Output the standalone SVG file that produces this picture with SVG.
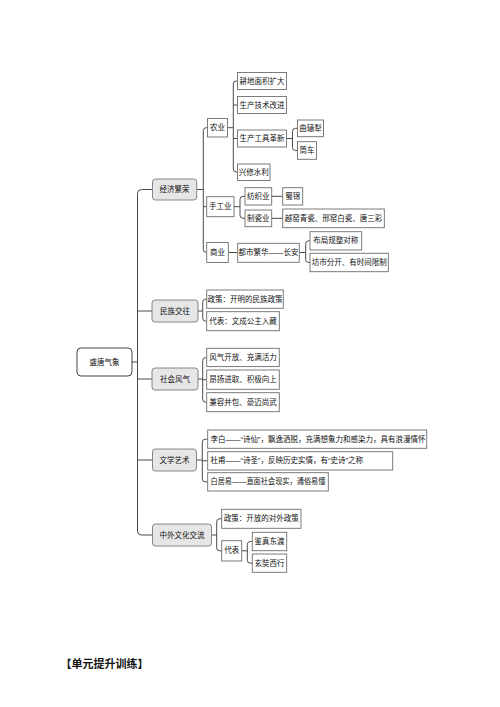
<svg xmlns="http://www.w3.org/2000/svg" width="500" height="707" viewBox="0 0 500 707">
<style>
.bg{fill:#fff}
.leaf{fill:#fff;stroke:#6e6e6e;stroke-width:0.9}
.l1{fill:#e6e6e6;stroke:#7a7a7a;stroke-width:0.9}
.root{fill:#fff;stroke:#444;stroke-width:1}
.c{fill:none;stroke:#4a4a4a;stroke-width:1}
text{font-family:"Liberation Sans","Noto Sans CJK SC",sans-serif;font-size:7.5px;fill:#111;dominant-baseline:central;text-anchor:middle}
.s{text-anchor:start}
.title{font-family:"Liberation Serif","Noto Sans CJK SC",serif;font-size:11px;font-weight:bold;dominant-baseline:alphabetic;text-anchor:start;fill:#111}
</style>
<rect class="bg" x="0" y="0" width="500" height="707"/>
<g id="connectors">
<path class="c" d="M132,362 H137.5"/>
<path class="c" d="M152.5,189.5 H141.5 Q137.5,189.5 137.5,193.5 V531 Q137.5,535 141.5,535 H152.5"/>
<path class="c" d="M137.5,311 H152"/>
<path class="c" d="M137.5,379 H152"/>
<path class="c" d="M137.5,460 H152.5"/>
<path class="c" d="M196.7,189.5 H203.3"/>
<path class="c" d="M207.5,127.7 H206.3 Q203.3,127.7 203.3,130.7 V249.3 Q203.3,252.3 206.3,252.3 H206.7"/>
<path class="c" d="M203.3,206.7 H206.7"/>
<path class="c" d="M227.5,127.7 H233.3"/>
<path class="c" d="M237.5,81 H236.3 Q233.3,81 233.3,84 V169 Q233.3,172 236.3,172 H237.5"/>
<path class="c" d="M233.3,105 H237.5"/>
<path class="c" d="M233.3,138.5 H237.5"/>
<path class="c" d="M286.5,138.5 H292.5"/>
<path class="c" d="M297.5,128.3 H295.5 Q292.5,128.3 292.5,131.3 V147.5 Q292.5,150.5 295.5,150.5 H297.5"/>
<path class="c" d="M234,206.7 H240"/>
<path class="c" d="M245,196.3 H243 Q240,196.3 240,199.3 V215.3 Q240,218.3 243,218.3 H245"/>
<path class="c" d="M271.7,196.3 H282.7"/>
<path class="c" d="M271.7,218.3 H282.7"/>
<path class="c" d="M228.3,252.5 H237.7"/>
<path class="c" d="M299.3,252.5 H305.7"/>
<path class="c" d="M310,240.8 H308.7 Q305.7,240.8 305.7,243.8 V259.5 Q305.7,262.5 308.7,262.5 H310"/>
<path class="c" d="M198,311 H202.7"/>
<path class="c" d="M206.7,299.2 H205.7 Q202.7,299.2 202.7,302.2 V318.2 Q202.7,321.2 205.7,321.2 H206.7"/>
<path class="c" d="M198,379 H202.7"/>
<path class="c" d="M206.7,357.5 H205.7 Q202.7,357.5 202.7,360.5 V399.2 Q202.7,402.2 205.7,402.2 H206.7"/>
<path class="c" d="M202.7,379.7 H206.7"/>
<path class="c" d="M196.5,460 H202.3"/>
<path class="c" d="M207.7,439.2 H205.3 Q202.3,439.2 202.3,442.2 V478.8 Q202.3,481.8 205.3,481.8 H207.7"/>
<path class="c" d="M202.3,460.8 H207.7"/>
<path class="c" d="M211.5,535 H216.7"/>
<path class="c" d="M221.7,518.8 H219.7 Q216.7,518.8 216.7,521.8 V547.8 Q216.7,550.8 219.7,550.8 H221.7"/>
<path class="c" d="M241.7,550.8 H247.3"/>
<path class="c" d="M252.3,541.5 H250.3 Q247.3,541.5 247.3,544.5 V560.2 Q247.3,563.2 250.3,563.2 H252.3"/>
</g>
<g id="root"><rect class="root" x="77" y="348" width="55" height="28" rx="4"/><text x="104.5" y="362">盛唐气象</text></g>
<g id="jingji"><rect class="l1" x="152.5" y="179" width="44.2" height="21" rx="3"/><text x="174.6" y="189.5">经济繁荣</text></g>
<g id="minzu"><rect class="l1" x="152" y="300" width="46" height="22" rx="3"/><text x="175" y="311">民族交往</text></g>
<g id="shehui"><rect class="l1" x="152" y="368" width="46" height="22" rx="3"/><text x="175" y="379">社会风气</text></g>
<g id="wenxue"><rect class="l1" x="152.5" y="449" width="44" height="22" rx="3"/><text x="174.5" y="460">文学艺术</text></g>
<g id="zhongwai"><rect class="l1" x="152.5" y="524" width="59" height="22" rx="3"/><text x="182" y="535">中外文化交流</text></g>

<g id="nongye"><rect class="leaf" x="207.5" y="118.5" width="20" height="18.5"/><text x="217.5" y="127.7">农业</text></g>
<g id="gengdi"><rect class="leaf" x="237.5" y="72.5" width="49" height="17"/><text x="262" y="81">耕地面积扩大</text></g>
<g id="jishu"><rect class="leaf" x="237.5" y="96.5" width="49" height="17"/><text x="262" y="105">生产技术改进</text></g>
<g id="gongju"><rect class="leaf" x="237.5" y="130" width="49" height="17"/><text x="262" y="138.5">生产工具革新</text></g>
<g id="quyuanli"><rect class="leaf" x="297.5" y="120" width="26" height="16.7"/><text x="310.5" y="128.3">曲辕犁</text></g>
<g id="tongche"><rect class="leaf" x="297.5" y="141.7" width="19" height="17.6"/><text x="307" y="150.5">筒车</text></g>
<g id="shuili"><rect class="leaf" x="237.5" y="164" width="32.5" height="16.5"/><text x="253.7" y="172.2">兴修水利</text></g>

<g id="shougongye"><rect class="leaf" x="206.7" y="196.7" width="27.3" height="20"/><text x="220.3" y="206.7">手工业</text></g>
<g id="fangzhi"><rect class="leaf" x="245" y="187.7" width="26.7" height="17.3"/><text x="258.3" y="196.3">纺织业</text></g>
<g id="shujin"><rect class="leaf" x="282.7" y="187.7" width="20" height="17.3"/><text x="292.7" y="196.3">蜀锦</text></g>
<g id="zhici"><rect class="leaf" x="245" y="210" width="26.7" height="16.7"/><text x="258.3" y="218.3">制瓷业</text></g>
<g id="ciqi"><rect class="leaf" x="282.7" y="209" width="101.6" height="18.7"/><text x="333.5" y="218.3">越窑青瓷、邢窑白瓷、唐三彩</text></g>

<g id="shangye"><rect class="leaf" x="206.7" y="242.5" width="21.6" height="20"/><text x="217.5" y="252.5">商业</text></g>
<g id="dushi"><rect class="leaf" x="237.7" y="243.3" width="61.6" height="19"/><text x="268.5" y="252.8">都市繁华——长安</text></g>
<g id="buju"><rect class="leaf" x="310" y="231.7" width="51.7" height="18.3"/><text x="335.8" y="240.8">布局规整对称</text></g>
<g id="fangshi"><rect class="leaf" x="310" y="253.3" width="78.3" height="18.4"/><text x="349.2" y="262.5">坊市分开、有时间限制</text></g>

<g id="mz-zhengce"><rect class="leaf" x="206.7" y="290" width="76.6" height="18.3"/><text x="245" y="299.2">政策：开明的民族政策</text></g>
<g id="mz-daibiao"><rect class="leaf" x="206.7" y="311.7" width="72.6" height="19"/><text x="243" y="321.2">代表：文成公主入藏</text></g>

<g id="fengqi"><rect class="leaf" x="206.7" y="348.3" width="72.6" height="18.3"/><text x="243" y="357.5">风气开放、充满活力</text></g>
<g id="angyang"><rect class="leaf" x="206.7" y="370" width="72.6" height="19.3"/><text x="243" y="379.7">昂扬进取、积极向上</text></g>
<g id="jianrong"><rect class="leaf" x="206.7" y="392.7" width="72.6" height="19"/><text x="243" y="402.2">兼容并包、豪迈尚武</text></g>

<g id="libai"><rect class="leaf" x="207.7" y="430" width="219" height="18.3"/><text class="s" x="210.5" y="439.2">李白——“诗仙”，飘逸洒脱，充满想象力和感染力，具有浪漫情怀</text></g>
<g id="dufu"><rect class="leaf" x="207.7" y="451.7" width="185" height="18.3"/><text class="s" x="210.5" y="460.8">杜甫——“诗圣”，反映历史实情，有“史诗”之称</text></g>
<g id="baijuyi"><rect class="leaf" x="207.7" y="472.7" width="120.6" height="18.3"/><text class="s" x="210.5" y="481.8" textLength="115" lengthAdjust="spacingAndGlyphs">白居易——直面社会现实，通俗易懂</text></g>

<g id="zw-zhengce"><rect class="leaf" x="221.7" y="509.3" width="79.3" height="19"/><text x="261.3" y="518.8">政策：开放的对外政策</text></g>
<g id="zw-daibiao"><rect class="leaf" x="221.7" y="540.7" width="20" height="20.3"/><text x="231.7" y="550.8">代表</text></g>
<g id="jianzhen"><rect class="leaf" x="252.3" y="532.3" width="34.4" height="18.4"/><text x="269.5" y="541.5">鉴真东渡</text></g>
<g id="xuanzang"><rect class="leaf" x="252.3" y="554" width="34.4" height="18.3"/><text x="269.5" y="563.2">玄奘西行</text></g>

<text class="title" x="60.5" y="667.5">【单元提升训练】</text>
</svg>
